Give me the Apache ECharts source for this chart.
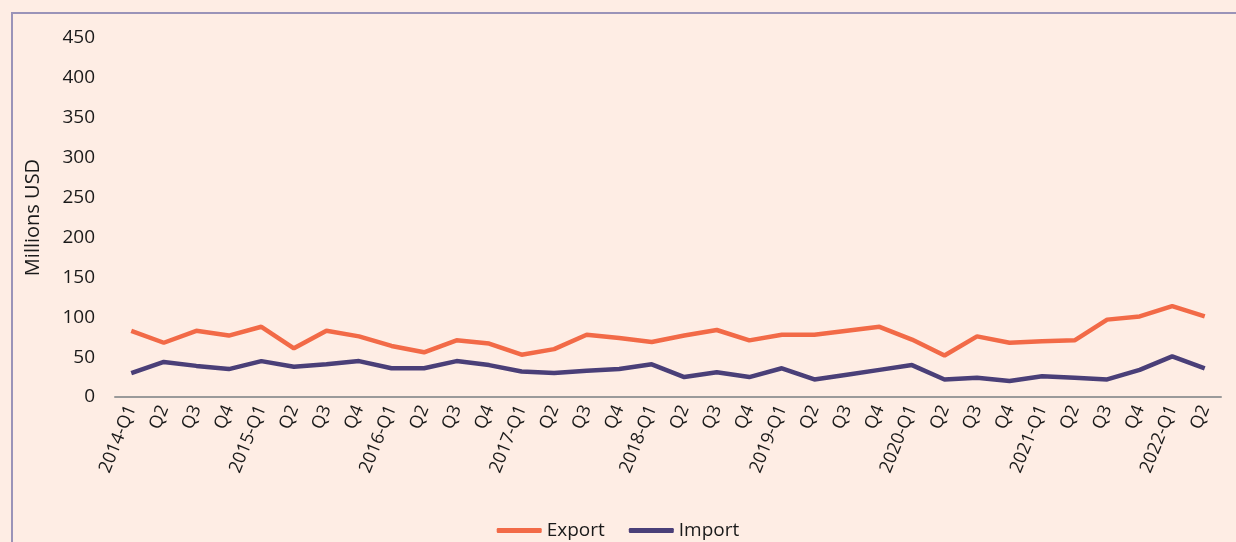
<!DOCTYPE html>
<html>
<head>
<meta charset="utf-8">
<script src="https://cdn.jsdelivr.net/npm/echarts@6/dist/echarts.min.js"></script>
<style>
html,body{margin:0;padding:0;background:#FEEDE4;}
#chart{width:1236px;height:542px;}
</style>
</head>
<body>
<div id="chart"></div>
<script>
const categories = [
  '2014-Q1','Q2','Q3','Q4',
  '2015-Q1','Q2','Q3','Q4',
  '2016-Q1','Q2','Q3','Q4',
  '2017-Q1','Q2','Q3','Q4',
  '2018-Q1','Q2','Q3','Q4',
  '2019-Q1','Q2','Q3','Q4',
  '2020-Q1','Q2','Q3','Q4',
  '2021-Q1','Q2','Q3','Q4',
  '2022-Q1','Q2'
];
const exportValues = [
  83, 68, 83, 77,
  88, 61, 83, 76,
  64, 56, 71, 67,
  53, 60, 78, 74,
  69, 77, 84, 71,
  78, 78, 83, 88,
  72, 52, 76, 68,
  70, 71, 97, 101,
  114, 101
];
const importValues = [
  30, 44, 39, 35,
  45, 38, 41, 45,
  36, 36, 45, 40,
  32, 30, 33, 35,
  41, 25, 31, 25,
  36, 22, 28, 34,
  40, 22, 24, 20,
  26, 24, 22, 34,
  51, 36
];
const yTicks = { min: 0, max: 450, interval: 50 };

const chart = echarts.init(document.getElementById('chart'));
const font = '"Open Sans", "Noto Sans", sans-serif';
chart.setOption({
  backgroundColor: '#FEEDE4',
  animation: false,
  textStyle: { fontFamily: font },
  graphic: [{
    type: 'rect',
    shape: { x: 12, y: 13, width: 1400, height: 700 },
    style: { fill: 'none', stroke: '#9A93B8', lineWidth: 2 },
    silent: true
  }],
  grid: { left: 115, right: 15, top: 38, bottom: 145, containLabel: false },
  legend: {
    bottom: -3,
    left: 'center',
    itemWidth: 45,
    itemHeight: 5,
    itemGap: 24,
    icon: 'roundRect',
    textStyle: { fontSize: 19, color: '#1a1a1a', fontFamily: font },
    data: ['Export', 'Import']
  },
  xAxis: {
    type: 'category',
    data: categories,
    boundaryGap: true,
    axisLine: { show: true, lineStyle: { color: '#9a9a9a', width: 2 } },
    axisTick: { show: false },
    axisLabel: { interval: 0, rotate: 68, fontSize: 18, color: '#1a1a1a', margin: 9, fontFamily: font }
  },
  yAxis: {
    type: 'value',
    min: yTicks.min, max: yTicks.max, interval: yTicks.interval,
    name: 'Millions USD',
    nameLocation: 'middle',
    nameGap: 72,
    nameTextStyle: { fontSize: 20, color: '#1a1a1a', fontFamily: font },
    axisLine: { show: false },
    axisTick: { show: false },
    splitLine: { show: false },
    axisLabel: { fontSize: 19, color: '#1a1a1a', margin: 20, fontFamily: font }
  },
  series: [
    { name: 'Export', type: 'line', data: exportValues, symbol: 'none',
      lineStyle: { color: '#F26A47', width: 4.5 }, itemStyle: { color: '#F26A47' } },
    { name: 'Import', type: 'line', data: importValues, symbol: 'none',
      lineStyle: { color: '#4A3F78', width: 4.5 }, itemStyle: { color: '#4A3F78' } }
  ]
});
</script>
</body>
</html>
